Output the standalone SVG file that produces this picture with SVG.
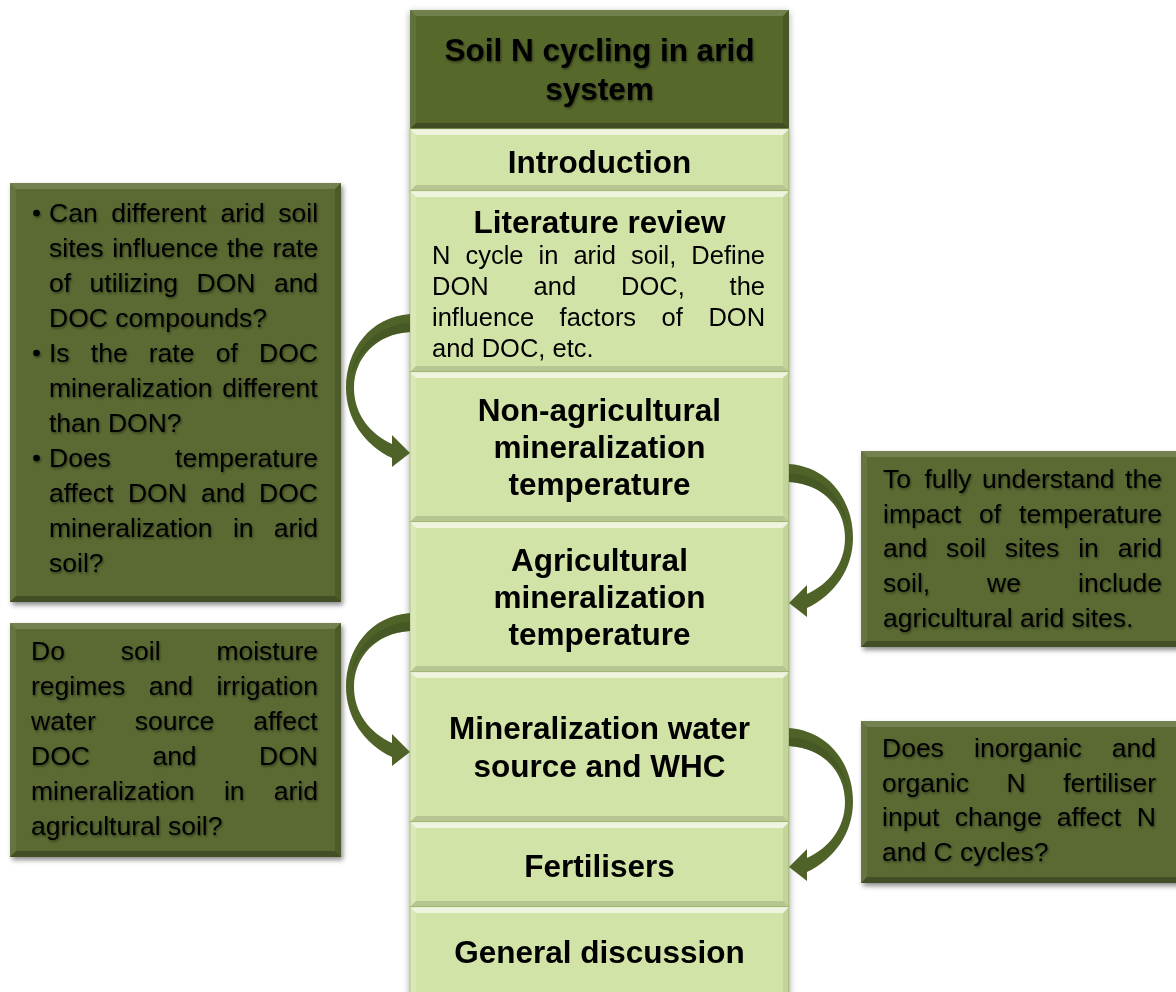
<svg xmlns="http://www.w3.org/2000/svg" width="1176" height="992" viewBox="0 0 1176 992">
<defs>
<style>
.dark{fill:#5a6b30;}
.title{fill:#56682c;}
.light{fill:#d2e3a8;stroke:#a3bd6c;stroke-width:1;}
.dt{fill:rgba(255,255,255,0.16);}
.dl{fill:rgba(255,255,255,0.07);}
.dr{fill:rgba(0,0,0,0.14);}
.db{fill:rgba(0,0,0,0.26);}
.lt{fill:rgba(255,255,255,0.62);}
.ll{fill:rgba(255,255,255,0.18);}
.lr{fill:rgba(0,0,0,0.07);}
.lb{fill:rgba(0,0,0,0.13);}
.h{font-family:"Liberation Sans",Arial,sans-serif;font-weight:bold;font-size:31.5px;fill:#000;text-anchor:middle;}
.b{font-family:"Liberation Sans",Arial,sans-serif;font-size:26.5px;fill:#000;}
.lit{font-family:"Liberation Sans",Arial,sans-serif;font-size:25.5px;fill:#000;}
.arrow{fill:#4f6228;}
.ain{fill:#3f5020;}
</style>
<filter id="sh" x="-10%" y="-10%" width="130%" height="130%">
<feDropShadow dx="2" dy="3" stdDeviation="2.5" flood-color="#000" flood-opacity="0.45"/>
</filter>
<filter id="csh" x="-10%" y="-5%" width="120%" height="110%">
<feDropShadow dx="0" dy="2" stdDeviation="3.5" flood-color="#000" flood-opacity="0.35"/>
</filter>
<filter id="tsh" x="-5%" y="-20%" width="110%" height="150%">
<feDropShadow dx="1" dy="1.5" stdDeviation="1.2" flood-color="#000" flood-opacity="0.45"/>
</filter>
<g id="carrow">
<path class="arrow" d="M 0 0 C -40 3 -64 36 -64 74 C -64 104 -46 131 -18 144 L -18 153 L 0 139 L -18 121 L -18 130 C -40 120 -56 100 -56 74 C -56 44 -34 20 0 18 Z"/>
<path class="ain" opacity="0.55" d="M 0 9 C -32 11 -54 32 -59 62 C -52 38 -32 20 0 18 Z"/>
</g>
</defs>
<rect width="1176" height="992" fill="#ffffff"/>

<!-- main column -->
<g id="column" filter="url(#csh)">
<g id="n-title">
<rect class="title" x="410" y="10" width="379" height="119"/>
<polygon class="dt" points="410,10 789,10 783,16 416,16"/>
<polygon class="dl" points="410,10 416,16 416,123 410,129"/>
<polygon class="dr" points="789,10 783,16 783,123 789,129"/>
<polygon class="db" points="410,129 789,129 783,123 416,123"/>
<text class="h" x="599.5" y="61" filter="url(#tsh)">Soil N cycling in arid</text>
<text class="h" x="599.5" y="100" filter="url(#tsh)">system</text>
</g>
<g id="n-intro">
<rect class="light" x="410" y="129" width="379" height="62"/>
<polygon class="lt" points="410,129 789,129 783,135 416,135"/>
<polygon class="ll" points="410,129 416,135 416,185 410,191"/>
<polygon class="lr" points="789,129 783,135 783,185 789,191"/>
<polygon class="lb" points="410,191 789,191 783,185 416,185"/>
<text class="h" x="599.5" y="173">Introduction</text>
</g>
<g id="n-lit">
<rect class="light" x="410" y="191" width="379" height="181"/>
<polygon class="lt" points="410,191 789,191 783,197 416,197"/>
<polygon class="ll" points="410,191 416,197 416,366 410,372"/>
<polygon class="lr" points="789,191 783,197 783,366 789,372"/>
<polygon class="lb" points="410,372 789,372 783,366 416,366"/>
<text class="h" x="599.5" y="233">Literature review</text>
<text class="lit" y="264"><tspan x="432">N</tspan><tspan x="465.4">cycle</tspan><tspan x="538.6">in</tspan><tspan x="573.4">arid</tspan><tspan x="631">soil,</tspan><tspan x="691.3">Define</tspan></text>
<text class="lit" y="295"><tspan x="432">DON</tspan><tspan x="533.6">and</tspan><tspan x="621">DOC,</tspan><tspan x="729.6">the</tspan></text>
<text class="lit" y="326"><tspan x="432">influence</tspan><tspan x="559.6">factors</tspan><tspan x="661.6">of</tspan><tspan x="708.4">DON</tspan></text>
<text class="lit" x="432" y="357">and DOC, etc.</text>
</g>
<g id="n-nonagri">
<rect class="light" x="410" y="372" width="379" height="150"/>
<polygon class="lt" points="410,372 789,372 783,378 416,378"/>
<polygon class="ll" points="410,372 416,378 416,516 410,522"/>
<polygon class="lr" points="789,372 783,378 783,516 789,522"/>
<polygon class="lb" points="410,522 789,522 783,516 416,516"/>
<text class="h" x="599.5" y="421">Non-agricultural</text>
<text class="h" x="599.5" y="458">mineralization</text>
<text class="h" x="599.5" y="495">temperature</text>
</g>
<g id="n-agri">
<rect class="light" x="410" y="522" width="379" height="150"/>
<polygon class="lt" points="410,522 789,522 783,528 416,528"/>
<polygon class="ll" points="410,522 416,528 416,666 410,672"/>
<polygon class="lr" points="789,522 783,528 783,666 789,672"/>
<polygon class="lb" points="410,672 789,672 783,666 416,666"/>
<text class="h" x="599.5" y="571">Agricultural</text>
<text class="h" x="599.5" y="608">mineralization</text>
<text class="h" x="599.5" y="645">temperature</text>
</g>
<g id="n-water">
<rect class="light" x="410" y="672" width="379" height="150"/>
<polygon class="lt" points="410,672 789,672 783,678 416,678"/>
<polygon class="ll" points="410,672 416,678 416,816 410,822"/>
<polygon class="lr" points="789,672 783,678 783,816 789,822"/>
<polygon class="lb" points="410,822 789,822 783,816 416,816"/>
<text class="h" x="599.5" y="739">Mineralization water</text>
<text class="h" x="599.5" y="777">source and WHC</text>
</g>
<g id="n-fert">
<rect class="light" x="410" y="822" width="379" height="85"/>
<polygon class="lt" points="410,822 789,822 783,828 416,828"/>
<polygon class="ll" points="410,822 416,828 416,901 410,907"/>
<polygon class="lr" points="789,822 783,828 783,901 789,907"/>
<polygon class="lb" points="410,907 789,907 783,901 416,901"/>
<text class="h" x="599.5" y="877">Fertilisers</text>
</g>
<g id="n-general">
<rect class="light" x="410" y="907" width="379" height="88"/>
<polygon class="lt" points="410,907 789,907 783,913 416,913"/>
<polygon class="ll" points="410,907 416,913 416,995 410,995"/>
<polygon class="lr" points="789,907 783,913 783,995 789,995"/>
<text class="h" x="599.5" y="963">General discussion</text>
</g>
</g>

<!-- side boxes -->
<g id="q-left1">
<rect class="dark" x="10" y="183" width="331" height="419" filter="url(#sh)"/>
<polygon class="dt" points="10,183 341,183 335,189 16,189"/>
<polygon class="dl" points="10,183 16,189 16,596 10,602"/>
<polygon class="dr" points="341,183 335,189 335,596 341,602"/>
<polygon class="db" points="10,602 341,602 335,596 16,596"/>
<g filter="url(#tsh)">
<circle cx="36.5" cy="213" r="3.3" fill="#000"/>
<circle cx="36.5" cy="353" r="3.3" fill="#000"/>
<circle cx="36.5" cy="458" r="3.3" fill="#000"/>
<text class="b" y="222"><tspan x="49">Can</tspan><tspan x="111.2">different</tspan><tspan x="220.5">arid</tspan><tspan x="278.3">soil</tspan></text>
<text class="b" y="257"><tspan x="49">sites</tspan><tspan x="112.2">influence</tspan><tspan x="227">the</tspan><tspan x="272.5">rate</tspan></text>
<text class="b" y="292"><tspan x="49">of</tspan><tspan x="89.6">utilizing</tspan><tspan x="196.5">DON</tspan><tspan x="273.9">and</tspan></text>
<text class="b" x="49" y="327">DOC compounds?</text>
<text class="b" y="362"><tspan x="49">Is</tspan><tspan x="90.8">the</tspan><tspan x="148.8">rate</tspan><tspan x="215.7">of</tspan><tspan x="259">DOC</tspan></text>
<text class="b" y="397"><tspan x="49">mineralization</tspan><tspan x="222.3">different</tspan></text>
<text class="b" x="49" y="432">than DON?</text>
<text class="b" y="467"><tspan x="49">Does</tspan><tspan x="175.1">temperature</tspan></text>
<text class="b" y="502"><tspan x="49">affect</tspan><tspan x="127.9">DON</tspan><tspan x="200.9">and</tspan><tspan x="259.1">DOC</tspan></text>
<text class="b" y="537"><tspan x="49">mineralization</tspan><tspan x="232.9">in</tspan><tspan x="273.8">arid</tspan></text>
<text class="b" x="49" y="572">soil?</text>
</g>
</g>

<g id="q-left2">
<rect class="dark" x="10" y="623" width="331" height="234" filter="url(#sh)"/>
<polygon class="dt" points="10,623 341,623 335,629 16,629"/>
<polygon class="dl" points="10,623 16,629 16,851 10,857"/>
<polygon class="dr" points="341,623 335,629 335,851 341,857"/>
<polygon class="db" points="10,857 341,857 335,851 16,851"/>
<g filter="url(#tsh)">
<text class="b" y="660"><tspan x="31">Do</tspan><tspan x="120.8">soil</tspan><tspan x="216.4">moisture</tspan></text>
<text class="b" y="695"><tspan x="31">regimes</tspan><tspan x="148.7">and</tspan><tspan x="216.4">irrigation</tspan></text>
<text class="b" y="730"><tspan x="31">water</tspan><tspan x="134.8">source</tspan><tspan x="253.2">affect</tspan></text>
<text class="b" y="765"><tspan x="31">DOC</tspan><tspan x="152.4">and</tspan><tspan x="259.1">DON</tspan></text>
<text class="b" y="800"><tspan x="31">mineralization</tspan><tspan x="223.9">in</tspan><tspan x="273.8">arid</tspan></text>
<text class="b" x="31" y="835">agricultural soil?</text>
</g>
</g>

<g id="q-right1">
<rect class="dark" x="861" y="451" width="330" height="196" filter="url(#sh)"/>
<polygon class="dt" points="861,451 1191,451 1185,457 867,457"/>
<polygon class="dl" points="861,451 867,457 867,641 861,647"/>
<polygon class="db" points="861,647 1191,647 1185,641 867,641"/>
<g filter="url(#tsh)">
<text class="b" y="488"><tspan x="883">To</tspan><tspan x="924.4">fully</tspan><tspan x="982">understand</tspan><tspan x="1125.1">the</tspan></text>
<text class="b" y="522.7"><tspan x="883">impact</tspan><tspan x="979">of</tspan><tspan x="1019.1">temperature</tspan></text>
<text class="b" y="557.4"><tspan x="883">and</tspan><tspan x="946.1">soil</tspan><tspan x="1004.8">sites</tspan><tspan x="1078.2">in</tspan><tspan x="1117.8">arid</tspan></text>
<text class="b" y="592.1"><tspan x="883">soil,</tspan><tspan x="987.1">we</tspan><tspan x="1078">include</tspan></text>
<text class="b" x="883" y="626.8">agricultural arid sites.</text>
</g>
</g>

<g id="q-right2">
<rect class="dark" x="861" y="721" width="330" height="162" filter="url(#sh)"/>
<polygon class="dt" points="861,721 1191,721 1185,727 867,727"/>
<polygon class="dl" points="861,721 867,727 867,877 861,883"/>
<polygon class="db" points="861,883 1191,883 1185,877 867,877"/>
<g filter="url(#tsh)">
<text class="b" y="757"><tspan x="882">Does</tspan><tspan x="974.1">inorganic</tspan><tspan x="1111.8">and</tspan></text>
<text class="b" y="791.7"><tspan x="882">organic</tspan><tspan x="1006.5">N</tspan><tspan x="1063.2">fertiliser</tspan></text>
<text class="b" y="826.4"><tspan x="882">input</tspan><tspan x="954.7">change</tspan><tspan x="1056.8">affect</tspan><tspan x="1136.8">N</tspan></text>
<text class="b" x="882" y="861.1">and C cycles?</text>
</g>
</g>

<!-- connectors -->
<g id="connectors">
<use href="#carrow" transform="translate(410,314)"/>
<use href="#carrow" transform="translate(410,613)"/>
<use href="#carrow" transform="translate(789,464) scale(-1,1)"/>
<use href="#carrow" transform="translate(789,728) scale(-1,1)"/>
</g>
</svg>
